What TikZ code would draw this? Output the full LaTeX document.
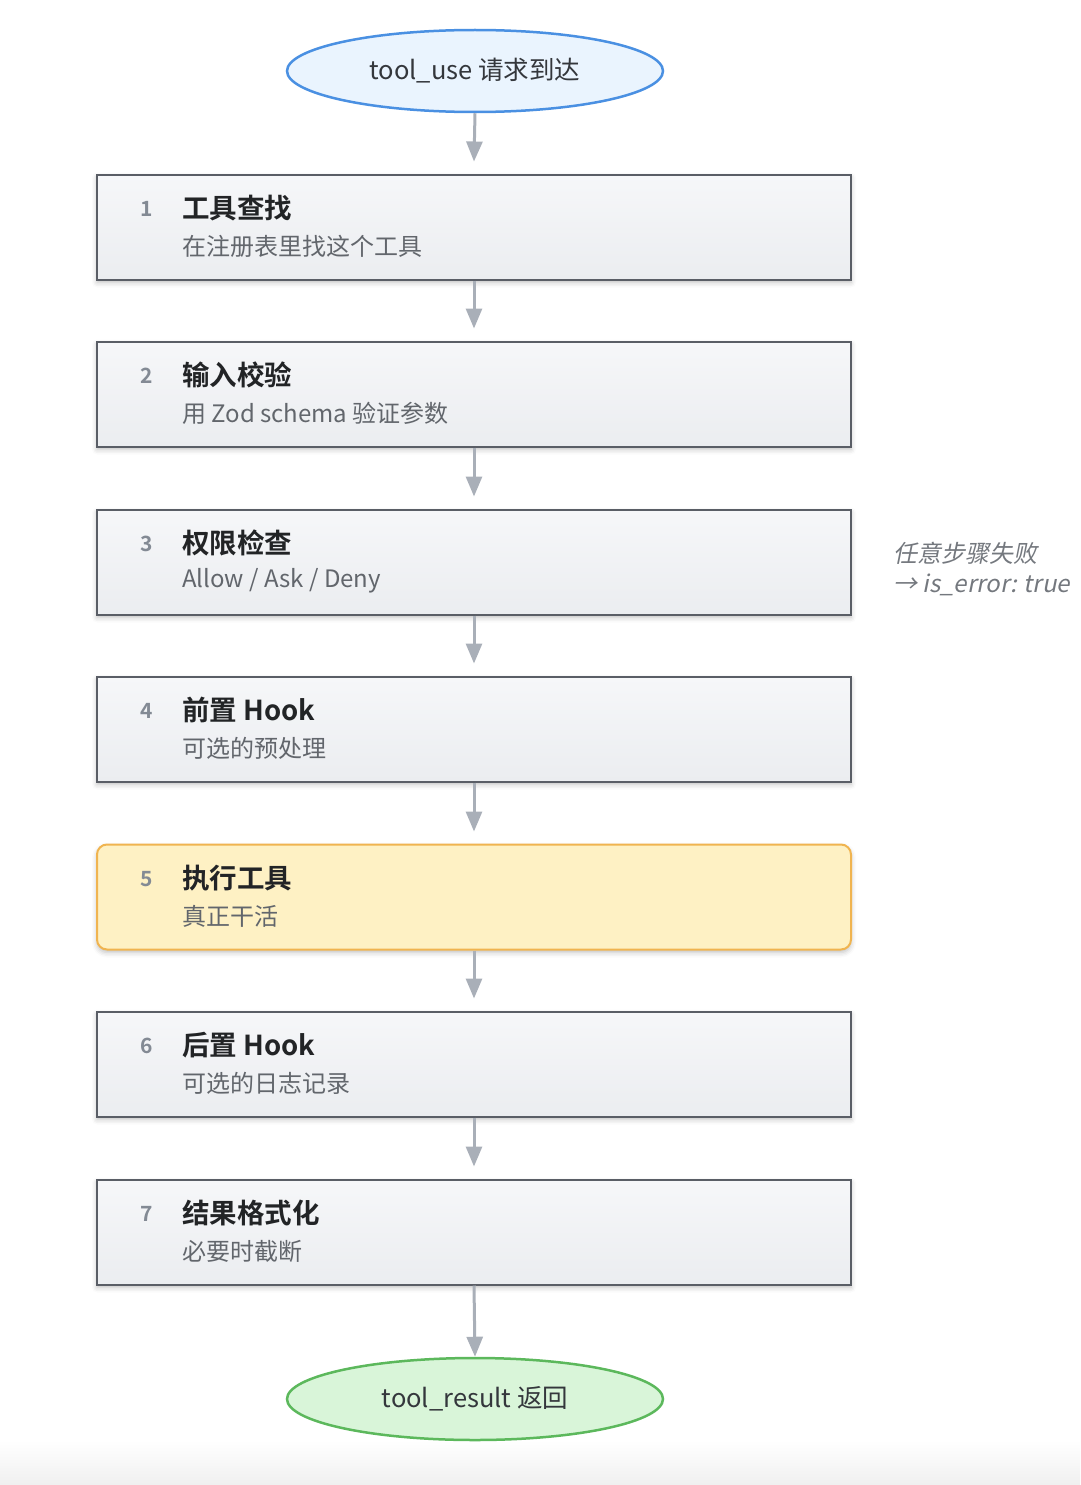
\documentclass[tikz,border=0pt]{standalone}
\usepackage{fontspec}
\setmainfont{Noto Sans CJK SC}[BoldFont={Noto Sans CJK SC Bold},ItalicFont={Noto Sans CJK SC},ItalicFeatures={FakeSlant=0.2}]
\usetikzlibrary{shapes.geometric,arrows.meta,shadows.blur,positioning}
\definecolor{bluefill}{HTML}{EAF4FE}
\definecolor{blueline}{HTML}{4A90E2}
\definecolor{greenfill}{HTML}{D9F5D9}
\definecolor{greenline}{HTML}{5CB85C}
\definecolor{boxline}{HTML}{5A5E66}
\definecolor{boxtop}{HTML}{F6F7F9}
\definecolor{boxbot}{HTML}{EBEDF0}
\definecolor{yfill}{HTML}{FEF1C4}
\definecolor{yline}{HTML}{F0B450}
\definecolor{arrowc}{HTML}{A9AFB8}
\definecolor{numc}{HTML}{838A94}
\definecolor{titlec}{HTML}{222426}
\definecolor{subc}{HTML}{62666C}
\definecolor{notec}{HTML}{74787E}
\definecolor{textc}{HTML}{34373C}
\begin{document}
\begin{tikzpicture}[x=1pt,y=-1pt,
  term/.style={ellipse,minimum width=376pt,minimum height=82pt,line width=2.5pt,font=\fontsize{25.5}{29}\selectfont,text=textc},
  stepbox/.style={draw=boxline,line width=2pt,top color=boxtop,bottom color=boxbot,minimum width=754pt,minimum height=105pt,inner sep=0pt,blur shadow={shadow xshift=0pt,shadow yshift=-3pt,shadow blur radius=5pt,shadow opacity=25}},
  hotbox/.style={draw=yline,fill=yfill,line width=2pt,rounded corners=10pt,minimum width=754pt,minimum height=105pt,inner sep=0pt,blur shadow={shadow xshift=0pt,shadow yshift=-3pt,shadow blur radius=5pt,shadow opacity=25}},
  numtxt/.style={anchor=center,font=\bfseries\fontsize{21}{24}\selectfont,text=numc},
  ttl/.style={anchor=west,inner xsep=0pt,font=\bfseries\fontsize{27.5}{31}\selectfont,text=titlec},
  sub/.style={anchor=west,inner xsep=0pt,font=\fontsize{24}{28}\selectfont,text=subc},
  note/.style={anchor=west,inner xsep=0pt,font=\itshape\fontsize{24}{28}\selectfont,text=notec},
  flow/.style={draw=arrowc,line width=3pt,-{Triangle[width=16pt,length=20pt]}}
]
\useasboundingbox (0,0) rectangle (1080,1485);
\shade[top color=white,bottom color=black!6] (0,1440) rectangle (1080,1485);

\node[term,draw=blueline,fill=bluefill] (start) at (475,71) {tool\_use 请求到达};
\node[term,draw=greenline,fill=greenfill] (end) at (475,1399) {tool\_result 返回};

\node[stepbox] (s1) at (474,227) {};
\node[stepbox] (s2) at (474,394) {};
\node[stepbox] (s3) at (474,562) {};
\node[stepbox] (s4) at (474,729) {};
\node[hotbox]  (s5) at (474,897) {};
\node[stepbox] (s6) at (474,1064) {};
\node[stepbox] (s7) at (474,1232) {};

\foreach \i/\t/\s in {1/工具查找/在注册表里找这个工具,2/输入校验/用 Zod schema 验证参数,3/权限检查/{Allow / Ask / Deny},4/前置 Hook/可选的预处理,5/执行工具/真正干活,6/后置 Hook/可选的日志记录,7/结果格式化/必要时截断}{
  \node[numtxt] (n\i) at ([xshift=-327pt,yshift=18pt]s\i.center) {\i};
  \node[ttl] (t\i) at ([xshift=-292pt,yshift=19pt]s\i.center) {\t};
  \node[sub] (u\i) at ([xshift=-292pt,yshift=-19pt]s\i.center) {\s};
}

\node[note] (note1) at (893,553) {任意步骤失败};
\node[note] (note2) at (893,585) {→ is\_error: true};

\draw[flow] (start.south) -- ([yshift=12pt]s1.north);
\draw[flow] (s1.south) -- ([yshift=12pt]s2.north);
\draw[flow] (s2.south) -- ([yshift=12pt]s3.north);
\draw[flow] (s3.south) -- ([yshift=12pt]s4.north);
\draw[flow] (s4.south) -- ([yshift=12pt]s5.north);
\draw[flow] (s5.south) -- ([yshift=12pt]s6.north);
\draw[flow] (s6.south) -- ([yshift=12pt]s7.north);
\draw[flow] (s7.south) -- (end.north);
\end{tikzpicture}
\end{document}
